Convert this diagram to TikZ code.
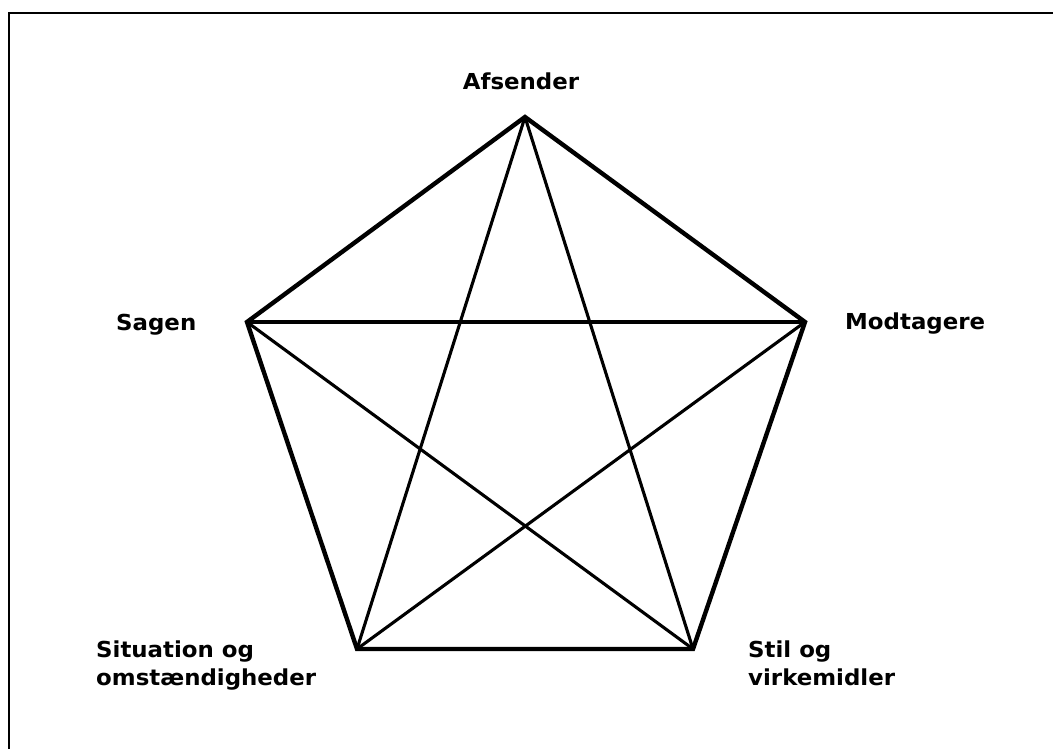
\documentclass[tikz,border=0pt]{standalone}
\usepackage{fontspec}
\setmainfont[FakeStretch=1.04]{DejaVu Sans}
\tikzset{
  outer/.style={line width=4.4pt, line join=miter},
  inner/.style={line width=3.1pt},
  lbl/.style={inner sep=0pt, font=\bfseries\fontsize{22}{28}\selectfont, align=left}
}

\begin{document}
\begin{tikzpicture}[x=1pt,y=-1pt]
  \useasboundingbox (0,0) rectangle (1053,749);

  % frame (only top and left show)
  \coordinate (ftr) at (1053,13);
  \coordinate (ftl) at (9,13);
  \coordinate (fbl) at (9,749);
  \draw[line width=2.6pt] (ftr) -- (ftl) -- (fbl);

  % corners
  \coordinate (afs) at (525,117);
  \coordinate (mod) at (805,322);
  \coordinate (stil) at (693,649);
  \coordinate (sit) at (357,649);
  \coordinate (sag) at (247,322);

  \draw[outer] (afs) -- (mod) -- (stil) -- (sit) -- (sag) -- cycle;
  \draw[inner] (afs) -- (sit);
  \draw[inner] (afs) -- (stil);
  \draw[inner] (sag) -- (mod);
  \draw[inner] (sag) -- (stil);
  \draw[inner] (mod) -- (sit);

  \node[lbl, anchor=base] (afsender) at (521,90) {Afsender};
  \node[lbl, anchor=base west] (sagen) at (116,330) {Sagen};
  \node[lbl, anchor=base west] (modtagere) at (845,329) {Modtagere};
  % two-line labels: base is the last line
  \node[lbl, anchor=base west] (situation) at (96,685) {Situation og\\omstændigheder};
  \node[lbl, anchor=base west] (stilvirk) at (748,685) {Stil og\\virkemidler};
\end{tikzpicture}
\end{document}
